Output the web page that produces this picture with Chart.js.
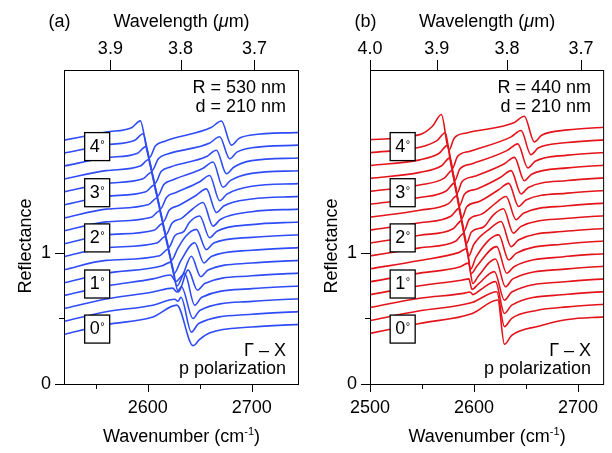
<!DOCTYPE html>
<html>
<head>
<meta charset="utf-8">
<script src="https://cdn.jsdelivr.net/npm/chart.js@4.4.1/dist/chart.umd.min.js"></script>
<style>
  body { margin: 0; background: #fff; }
  .panel { position: absolute; top: 0; width: 306px; height: 453px; }
</style>
</head>
<body>
<div class="panel" style="left:0"><canvas id="panelA" width="306" height="453"></canvas></div>
<div class="panel" style="left:306px"><canvas id="panelB" width="306" height="453"></canvas></div>
<script>
// spectra, [wavenumber cm-1, reflectance], bottom (0 deg) to top (4 deg)
const curvesA = [
  [[2519.5,0.377],[2560,0.452],[2605,0.51],[2628,0.60],[2643.6,0.292],[2650,0.34],[2660,0.39],[2700,0.434],[2745.5,0.454]],
  [[2519.5,0.476],[2560,0.550],[2605,0.60],[2626,0.645],[2629,0.63],[2632,0.66],[2642,0.395],[2649,0.46],[2700,0.531],[2745.5,0.551]],
  [[2519.5,0.574],[2560,0.647],[2605,0.70],[2624,0.73],[2628,0.70],[2632.4,0.74],[2643.6,0.498],[2650,0.56],[2700,0.629],[2745.5,0.649]],
  [[2519.5,0.673],[2560,0.745],[2605,0.80],[2622,0.83],[2627,0.78],[2635.6,0.84],[2645.2,0.60],[2652,0.66],[2700,0.726],[2745.5,0.746]],
  [[2519.5,0.771],[2560,0.843],[2614,0.90],[2622.2,0.928],[2629.5,0.70],[2638.8,0.869],[2647.8,0.715],[2654.8,0.765],[2700,0.824],[2745.5,0.844]],
  [[2519.5,0.870],[2560,0.941],[2611.5,0.976],[2619.5,1.026],[2628.1,0.746],[2634.1,0.836],[2642,0.972],[2651,0.818],[2658,0.868],[2700,0.921],[2745.5,0.941]],
  [[2519.5,0.969],[2560,1.038],[2608.9,1.073],[2616.9,1.123],[2625.5,0.843],[2631.5,0.933],[2645.2,1.075],[2654.1,0.921],[2661.1,0.971],[2700,1.018],[2745.5,1.038]],
  [[2519.5,1.067],[2560,1.136],[2606.2,1.171],[2614.2,1.221],[2622.8,0.941],[2628.8,1.031],[2636.8,1.127],[2646.8,1.177],[2656.4,1.023],[2663.4,1.073],[2700,1.116],[2745.5,1.136]],
  [[2519.5,1.166],[2560,1.234],[2603.5,1.269],[2611.5,1.319],[2620.1,1.039],[2626.1,1.129],[2635.1,1.164],[2640,1.229],[2650,1.279],[2659.6,1.113],[2666.6,1.163],[2700,1.213],[2745.5,1.233]],
  [[2519.5,1.264],[2560,1.331],[2600.9,1.366],[2608.9,1.416],[2617.5,1.136],[2623.5,1.226],[2632.5,1.261],[2643.2,1.332],[2653.2,1.382],[2662.8,1.202],[2669.8,1.252],[2700,1.311],[2745.5,1.331]],
  [[2519.5,1.363],[2560,1.429],[2598.2,1.464],[2606.2,1.514],[2614.8,1.234],[2620.8,1.324],[2629.8,1.359],[2646.4,1.435],[2656.4,1.485],[2666.1,1.305],[2673.1,1.355],[2700,1.408],[2745.5,1.428]],
  [[2519.5,1.462],[2560,1.527],[2595.6,1.562],[2603.6,1.612],[2612.2,1.332],[2618.2,1.422],[2627.2,1.457],[2649.6,1.537],[2659.6,1.587],[2669.2,1.395],[2676.2,1.445],[2700,1.505],[2745.5,1.525]],
  [[2519.5,1.560],[2560,1.624],[2592.9,1.659],[2600.9,1.709],[2609.5,1.429],[2615.5,1.519],[2624.5,1.554],[2652.8,1.640],[2662.8,1.690],[2672.4,1.498],[2679.4,1.548],[2700,1.603],[2745.5,1.623]],
  [[2519.5,1.659],[2560,1.722],[2590.2,1.757],[2598.2,1.807],[2606.9,1.527],[2612.9,1.617],[2621.9,1.652],[2656.1,1.729],[2666.1,1.779],[2675.7,1.600],[2682.7,1.650],[2700,1.700],[2745.5,1.720]],
  [[2519.5,1.757],[2560,1.820],[2587.6,1.855],[2595.6,1.905],[2604.2,1.625],[2610.2,1.715],[2619.2,1.750],[2659.2,1.832],[2669.2,1.882],[2678.8,1.715],[2685.8,1.765],[2700,1.798],[2745.5,1.818]],
  [[2519.5,1.856],[2560,1.918],[2584.9,1.953],[2592.9,2.003],[2601.5,1.723],[2607.5,1.813],[2616.5,1.848],[2660.9,1.952],[2670.9,2.002],[2680.5,1.818],[2687.5,1.868],[2700,1.895],[2745.5,1.915]]
];

const curvesB = [
  [[2500,0.385],[2547.8,0.461],[2598.3,0.537],[2622.8,0.639],[2629.2,0.302],[2636.2,0.37],[2662,0.44],[2690,0.491],[2725,0.511]],
  [[2500,0.483],[2547.8,0.557],[2598,0.62],[2621.8,0.702],[2629.2,0.437],[2636.2,0.50],[2660,0.56],[2690,0.587],[2725,0.607]],
  [[2500,0.582],[2547.8,0.653],[2590,0.69],[2596,0.70],[2599,0.68],[2605,0.71],[2620.6,0.779],[2629.2,0.537],[2636.2,0.60],[2690,0.683],[2725,0.703]],
  [[2500,0.680],[2547.8,0.748],[2588,0.79],[2595,0.80],[2598,0.72],[2604,0.76],[2619.6,0.855],[2629.2,0.638],[2636.2,0.70],[2690,0.78],[2725,0.80]],
  [[2500,0.778],[2547.8,0.844],[2586,0.89],[2594.5,0.92],[2598.9,0.765],[2604,0.82],[2620.6,0.952],[2630.2,0.740],[2637.2,0.80],[2690,0.876],[2725,0.896]],
  [[2500,0.877],[2547.8,0.940],[2585,1.00],[2593,1.03],[2597.3,0.84],[2603,0.90],[2621.8,1.046],[2631.4,0.843],[2638.4,0.893],[2690,0.972],[2725,0.992]],
  [[2500,0.975],[2547.8,1.036],[2582.2,1.086],[2590.2,1.146],[2596.9,0.876],[2601.9,0.966],[2623.7,1.135],[2633.3,0.944],[2640.3,0.994],[2690,1.068],[2725,1.088]],
  [[2500,1.073],[2547.8,1.132],[2579.9,1.182],[2587.9,1.242],[2594.7,0.972],[2599.7,1.062],[2616,1.187],[2626,1.237],[2635.6,1.046],[2642.6,1.096],[2690,1.164],[2725,1.184]],
  [[2500,1.171],[2547.8,1.227],[2577.7,1.277],[2585.7,1.337],[2592.5,1.067],[2597.5,1.157],[2609.5,1.197],[2618.2,1.284],[2628.2,1.334],[2637.8,1.148],[2644.8,1.198],[2690,1.261],[2725,1.281]],
  [[2500,1.270],[2547.8,1.323],[2575.5,1.373],[2583.5,1.433],[2590.3,1.163],[2595.3,1.253],[2607.3,1.293],[2620.8,1.377],[2630.8,1.427],[2640.4,1.25],[2647.4,1.30],[2690,1.357],[2725,1.377]],
  [[2500,1.368],[2547.8,1.419],[2573.2,1.469],[2581.2,1.529],[2588.0,1.259],[2593,1.349],[2605,1.389],[2623.3,1.477],[2633.3,1.527],[2642.9,1.351],[2649.9,1.401],[2690,1.453],[2725,1.473]],
  [[2500,1.466],[2547.8,1.515],[2571,1.565],[2579,1.625],[2585.8,1.355],[2590.8,1.445],[2602.8,1.485],[2625.6,1.574],[2635.6,1.624],[2645.2,1.446],[2652.2,1.496],[2690,1.549],[2725,1.569]],
  [[2500,1.565],[2547.8,1.611],[2568.8,1.661],[2576.8,1.721],[2583.5,1.451],[2588.5,1.541],[2600.5,1.581],[2628.8,1.675],[2638.8,1.725],[2648.3,1.547],[2655.3,1.597],[2690,1.645],[2725,1.665]],
  [[2500,1.663],[2547.8,1.706],[2566.5,1.756],[2574.5,1.816],[2581.3,1.546],[2586.3,1.636],[2598.3,1.676],[2632,1.778],[2642,1.828],[2651.7,1.645],[2658.7,1.695],[2690,1.742],[2725,1.762]],
  [[2500,1.761],[2547.8,1.802],[2564.3,1.852],[2572.3,1.912],[2579.1,1.642],[2584.1,1.732],[2596.1,1.772],[2635.2,1.879],[2645.2,1.929],[2654.6,1.746],[2661.6,1.796],[2690,1.838],[2725,1.858]],
  [[2500,1.860],[2547.8,1.898],[2560,1.962],[2568.6,2.051],[2575.9,1.781],[2580.9,1.871],[2592.9,1.911],[2638.3,1.988],[2648.3,2.038],[2657.9,1.843],[2664.9,1.893],[2690,1.934],[2725,1.954]]
];

const wavenumberTicksA = [2550, 2600, 2650, 2700];
const wavenumberTicksB = [2500, 2550, 2600, 2650, 2700];
const wavelengthTicksA = [3.9, 3.8, 3.7];
const wavelengthTicksB = [4.0, 3.9, 3.8, 3.7];
const reflectanceTicks = [0, 0.5, 1];
const angleLabels = ['0', '1', '2', '3', '4'];
const angleLabelLevels = [0.418, 0.761, 1.112, 1.456, 1.807];

Chart.defaults.font.family = '"Liberation Sans", Arial, sans-serif';
Chart.defaults.color = '#000';

const FONT = '18px "Liberation Sans", Arial, sans-serif';

// frame, tick marks, titles and in-plot texts
const decor = {
  id: 'decor',
  afterDraw(chart, args, opts) {
    const { ctx, chartArea: a, scales } = chart;
    ctx.save();
    ctx.strokeStyle = '#000';
    ctx.lineWidth = 1;
    ctx.strokeRect(a.left + 0.5, a.top + 0.5, a.right - a.left - 1, a.bottom - a.top);

    ctx.beginPath();
    scales.x.ticks.forEach(t => {
      const px = Math.round(scales.x.getPixelForValue(t.value)) + 0.5;
      ctx.moveTo(px, a.bottom);
      ctx.lineTo(px, a.bottom + (t.value % 100 === 0 ? 8 : 5));
    });
    scales.xTop.ticks.forEach(t => {
      const px = Math.round(scales.xTop.getPixelForValue(t.value)) + 0.5;
      ctx.moveTo(px, a.top);
      ctx.lineTo(px, a.top - 10);
    });
    scales.y.ticks.forEach(t => {
      const py = Math.round(scales.y.getPixelForValue(t.value)) + 0.5;
      ctx.moveTo(a.left, py);
      ctx.lineTo(a.left - (Number.isInteger(t.value) ? 9 : 5), py);
    });
    ctx.stroke();

    // angle boxes
    angleLabels.forEach((lab, i) => {
      const cx = scales.x.getPixelForValue(opts.labelW);
      const cy = scales.y.getPixelForValue(angleLabelLevels[i]);
      ctx.fillStyle = '#fff';
      ctx.fillRect(cx - 12.5, cy - 14, 25, 28);
      ctx.lineWidth = 1.3;
      ctx.strokeRect(cx - 12.5, cy - 14, 25, 28);
      ctx.fillStyle = '#000';
      ctx.font = FONT;
      ctx.textAlign = 'center';
      ctx.textBaseline = 'alphabetic';
      ctx.fillText(lab, cx - 2.5, cy + 5);
      ctx.font = '11px "Liberation Sans", Arial, sans-serif';
      ctx.textAlign = 'left';
      ctx.fillText('°', cx + 3, cy + 1);
    });

    ctx.fillStyle = '#000';
    ctx.font = FONT;
    ctx.textBaseline = 'alphabetic';
    const mid = (a.left + a.right) / 2;

    // top title with italic mu
    const t1 = 'Wavelength (', t2 = 'μ', t3 = 'm)';
    ctx.font = FONT;
    const w1 = ctx.measureText(t1).width, w3 = ctx.measureText(t3).width;
    ctx.font = 'italic ' + FONT;
    const w2 = ctx.measureText(t2).width;
    let x0 = mid - (w1 + w2 + w3) / 2;
    ctx.textAlign = 'left';
    ctx.font = FONT; ctx.fillText(t1, x0, 27);
    ctx.font = 'italic ' + FONT; ctx.fillText(t2, x0 + w1, 27);
    ctx.font = FONT; ctx.fillText(t3, x0 + w1 + w2, 27);

    // bottom title with superscript
    const b1 = 'Wavenumber (cm', b2 = '-1', b3 = ')';
    ctx.font = FONT;
    const v1 = ctx.measureText(b1).width, v3 = ctx.measureText(b3).width;
    ctx.font = '11px "Liberation Sans", Arial, sans-serif';
    const v2 = ctx.measureText(b2).width;
    x0 = mid - (v1 + v2 + v3) / 2;
    ctx.font = FONT; ctx.fillText(b1, x0, 442);
    ctx.font = '11px "Liberation Sans", Arial, sans-serif'; ctx.fillText(b2, x0 + v1, 435);
    ctx.font = FONT; ctx.fillText(b3, x0 + v1 + v2, 442);

    // panel letter
    ctx.font = FONT;
    ctx.textAlign = 'center';
    ctx.fillText(opts.letter, 59.5, 27);

    // y title
    ctx.save();
    ctx.translate(31, 246);
    ctx.rotate(-Math.PI / 2);
    ctx.fillText('Reflectance', 0, 0);
    ctx.restore();

    // in-plot notes
    ctx.textAlign = 'right';
    const rx = a.right - 13;
    ctx.fillText(opts.sizeNote, rx, 93);
    ctx.fillText('d = 210 nm', rx, 112);
    ctx.fillText('Γ – X', rx, 356);
    ctx.fillText('p polarization', rx, 374);
    ctx.restore();
  }
};

function makeDatasets(curves, color) {
  return curves.map(c => ({
    data: c.map(p => ({ x: p[0], y: p[1] })),
    borderColor: color,
    borderWidth: 1.6,
    pointRadius: 0,
    fill: false,
    tension: 0.4,
    cubicInterpolationMode: 'monotone'
  }));
}

function makePanel(id, cfg) {
  new Chart(document.getElementById(id), {
    type: 'line',
    data: { datasets: makeDatasets(cfg.curves, cfg.color) },
    options: {
      responsive: false,
      animation: false,
      events: [],
      layout: { padding: { left: 0, right: 7, top: 0, bottom: 0 } },
      plugins: {
        legend: { display: false },
        tooltip: { enabled: false },
        decor: { letter: cfg.letter, sizeNote: cfg.sizeNote, labelW: cfg.labelW }
      },
      scales: {
        x: {
          type: 'linear', position: 'bottom', min: cfg.min, max: cfg.max,
          grid: { display: false, drawTicks: false }, border: { display: false },
          afterBuildTicks: s => { s.ticks = cfg.wnTicks.map(v => ({ value: v })); },
          ticks: { autoSkip: false, maxRotation: 0, padding: 13, font: { size: 18 },
                   callback: v => (v % 100 === 0 ? String(v) : '') },
          afterFit: s => { s.height = 69; }
        },
        xTop: {
          type: 'linear', position: 'top', min: cfg.min, max: cfg.max,
          grid: { display: false, drawTicks: false }, border: { display: false },
          afterBuildTicks: s => { s.ticks = cfg.wlTicks.map(l => ({ value: 10000 / l })); },
          ticks: { autoSkip: false, maxRotation: 0, padding: 10, font: { size: 18 },
                   callback: v => (10000 / v).toFixed(1) },
          afterFit: s => { s.height = 70; }
        },
        y: {
          min: 0, max: 2.39,
          grid: { display: false, drawTicks: false }, border: { display: false },
          afterBuildTicks: s => { s.ticks = reflectanceTicks.map(v => ({ value: v })); },
          ticks: { autoSkip: false, padding: 13, font: { size: 18 },
                   callback: v => (Number.isInteger(v) ? String(v) : '') },
          afterFit: s => { s.width = 64; }
        }
      }
    },
    plugins: [decor]
  });
}

makePanel('panelA', {
  curves: curvesA, color: '#2f4cf6', letter: '(a)', sizeNote: 'R = 530 nm',
  min: 2519.5, max: 2745.5, wnTicks: wavenumberTicksA, wlTicks: wavelengthTicksA, labelW: 2551.4
});
makePanel('panelB', {
  curves: curvesB, color: '#e3141b', letter: '(b)', sizeNote: 'R = 440 nm',
  min: 2500, max: 2725, wnTicks: wavenumberTicksB, wlTicks: wavelengthTicksB, labelW: 2531.4
});
</script>
</body>
</html>
